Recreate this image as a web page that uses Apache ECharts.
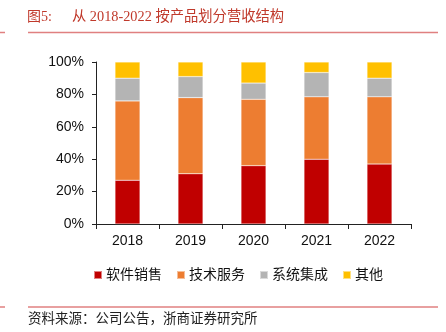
<!DOCTYPE html>
<html>
<head>
<meta charset="utf-8">
<script src="https://cdn.jsdelivr.net/npm/echarts@6/dist/echarts.min.js"></script>
<style>
  html, body { margin: 0; padding: 0; background: #fff; }
  #chart { width: 446px; height: 332px; }
</style>
</head>
<body>
<div id="chart"></div>
<script>
// Revenue structure by product line, share of total (%)
const years = ['2018', '2019', '2020', '2021', '2022'];
const softwareSales = [27, 31, 36, 40, 37];
const techServices = [49, 47, 41, 38.5, 41.5];
const systemIntegration = [14, 13, 10, 15, 11.5];
const others = [10, 9, 13, 6.5, 10];
const yTicks = [0, 20, 40, 60, 80, 100];

const seriesNames = ['软件销售', '技术服务', '系统集成', '其他'];
const seriesColors = ['#C00000', '#ED7D31', '#B4B4B4', '#FFC000'];
const seriesData = [softwareSales, techServices, systemIntegration, others];

const chart = echarts.init(document.getElementById('chart'));
const serif = '"Liberation Serif", "Noto Sans CJK SC", serif';
const sans = '"Liberation Sans", Arial, sans-serif';
const titleRed = '#C0392B';
const ruleRed = '#E08080';

chart.setOption({
  animation: false,
  backgroundColor: '#fff',
  graphic: [
    {
      type: 'text', left: 27, top: 10,
      style: { text: '图5:', font: '14px ' + serif, fill: titleRed }
    },
    {
      type: 'text', left: 72, top: 10,
      style: { text: '从 2018-2022 按产品划分营收结构', font: '14.3px ' + serif, fill: titleRed }
    },
    { type: 'line', shape: { x1: 0, y1: 32.5, x2: 5, y2: 32.5 }, style: { stroke: ruleRed, lineWidth: 1.5 } },
    { type: 'line', shape: { x1: 28, y1: 32.5, x2: 438, y2: 32.5 }, style: { stroke: ruleRed, lineWidth: 1.5 } },
    { type: 'line', shape: { x1: 0, y1: 307, x2: 5, y2: 307 }, style: { stroke: ruleRed, lineWidth: 1.5 } },
    { type: 'line', shape: { x1: 28, y1: 307, x2: 438, y2: 307 }, style: { stroke: ruleRed, lineWidth: 1.5 } },
    {
      type: 'text', left: 28, top: 313,
      style: { text: '资料来源：公司公告，浙商证券研究所', font: '13.5px ' + serif, fill: '#222' }
    }
  ],
  legend: {
    top: 263,
    left: 88,
    itemWidth: 8,
    itemHeight: 8,
    itemGap: 14,
    icon: 'rect',
    textStyle: { fontFamily: serif, fontSize: 14, color: '#111', padding: [0, 0, 0, -1] },
    data: seriesNames
  },
  grid: { left: 96, right: 35, top: 62, bottom: 108 },
  xAxis: {
    type: 'category',
    data: years,
    axisLine: { lineStyle: { color: '#222', width: 1 } },
    axisTick: { show: true, length: 5, lineStyle: { color: '#222' } },
    axisLabel: { fontFamily: sans, fontSize: 14, color: '#111', margin: 10 }
  },
  yAxis: {
    type: 'value',
    min: yTicks[0],
    max: yTicks[yTicks.length - 1],
    interval: 20,
    splitLine: { show: false },
    axisLine: { show: true, lineStyle: { color: '#222', width: 1 } },
    axisTick: { show: true, length: 4, lineStyle: { color: '#222' } },
    axisLabel: { fontFamily: sans, fontSize: 14, color: '#111', margin: 12, formatter: '{value}%' }
  },
  series: seriesNames.map((name, i) => ({
    name: name,
    type: 'bar',
    stack: 'total',
    barWidth: 25,
    data: seriesData[i],
    itemStyle: { color: seriesColors[i], borderColor: 'rgba(255,255,255,0.5)', borderWidth: 0.5 }
  }))
});
</script>
</body>
</html>
